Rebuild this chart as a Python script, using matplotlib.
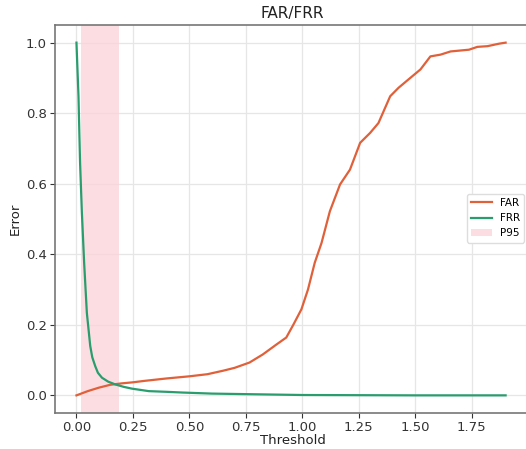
import matplotlib
matplotlib.use("Agg")
import matplotlib.pyplot as plt

# False acceptance rate vs threshold
far_thr = [0.0, 0.05, 0.10, 0.15, 0.20, 0.25, 0.30, 0.40, 0.50, 0.58, 0.65, 0.70,
           0.766, 0.825, 0.885, 0.929, 0.96, 0.996, 1.025, 1.055, 1.085, 1.122,
           1.167, 1.211, 1.256, 1.30, 1.337, 1.389, 1.426, 1.478, 1.523, 1.567,
           1.612, 1.656, 1.738, 1.775, 1.82, 1.871, 1.90]
far_val = [0.0, 0.012, 0.022, 0.030, 0.034, 0.037, 0.041, 0.048, 0.054, 0.060,
           0.070, 0.078, 0.093, 0.116, 0.144, 0.164, 0.200, 0.244, 0.300, 0.376,
           0.432, 0.522, 0.598, 0.640, 0.716, 0.744, 0.772, 0.848, 0.872, 0.900,
           0.924, 0.961, 0.966, 0.975, 0.980, 0.988, 0.990, 0.997, 1.000]

# False rejection rate vs threshold
frr_thr = [0.0, 0.009, 0.016, 0.024, 0.034, 0.046, 0.061, 0.070, 0.083, 0.095,
           0.113, 0.14, 0.172, 0.21, 0.246, 0.32, 0.40, 0.469, 0.60, 0.80,
           1.0, 1.5, 1.90]
frr_val = [1.0, 0.848, 0.659, 0.518, 0.376, 0.234, 0.140, 0.108, 0.083, 0.064,
           0.050, 0.039, 0.031, 0.024, 0.019, 0.012, 0.010, 0.008, 0.005, 0.003,
           0.001, 0.0, 0.0]

# 95th-percentile band
p95_band = [0.02, 0.19]

fig = plt.figure(figsize=(5.26, 4.49), dpi=100)
ax = fig.add_axes([55 / 526, 36 / 449, 475 / 526, 388 / 449])

ax.axvspan(p95_band[0], p95_band[1], color="#fbd3d9", alpha=0.75, lw=0, label="P95")
ax.plot(far_thr, far_val, color="#e0603a", lw=1.6, label="FAR")
ax.plot(frr_thr, frr_val, color="#2a9d6f", lw=1.6, label="FRR")

ax.set_xlim(-0.095, 2.008)
ax.set_ylim(-0.05, 1.05)
ax.set_xticks([0.0, 0.25, 0.5, 0.75, 1.0, 1.25, 1.5, 1.75])
ax.set_yticks([0.0, 0.2, 0.4, 0.6, 0.8, 1.0])
ax.grid(True, color="#e6e6e6", lw=0.9)
ax.set_axisbelow(True)

for s in ax.spines.values():
    s.set_color("#777777")
    s.set_linewidth(1.2)
ax.tick_params(colors="#333333", labelsize=9.5, pad=2.5)
for t in ax.get_xticklabels() + ax.get_yticklabels():
    t.set_color("#333333")

ax.set_title("FAR/FRR", fontsize=11, color="#222222", pad=5)
ax.set_xlabel("Threshold", fontsize=9.5, color="#222222", labelpad=0)
ax.set_ylabel("Error", fontsize=9.5, color="#222222", labelpad=3)

handles, labels = ax.get_legend_handles_labels()
order = [labels.index("FAR"), labels.index("FRR"), labels.index("P95")]
ax.legend([handles[i] for i in order], [labels[i] for i in order],
          loc="upper right", bbox_to_anchor=(0.988, 0.565), borderaxespad=0,
          fontsize=7.5, framealpha=1, edgecolor="#dddddd")

fig.savefig("out.png", dpi=100)
